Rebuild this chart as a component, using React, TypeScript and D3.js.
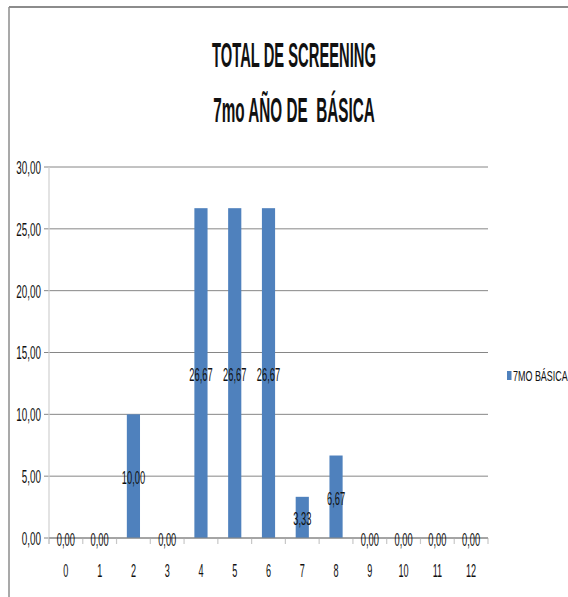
import { useMemo } from "react";
import * as d3 from "d3";

const W = 568;
const H = 597;

// data
const categories = ["0", "1", "2", "3", "4", "5", "6", "7", "8", "9", "10", "11", "12"];
const values = [0, 0, 10, 0, 26.67, 26.67, 26.67, 3.33, 6.67, 0, 0, 0, 0];
const yTicks = [0, 5, 10, 15, 20, 25, 30];
const titleLines = ["TOTAL DE SCREENING", "7mo AÑO DE  BÁSICA"];
const seriesName = "7MO BÁSICA";

const PLOT = { left: 49, right: 488, top: 167, bottom: 538 };
const BAR = "#4F81BD";
const GRID = "#868686";
const FONT = "'Liberation Sans', Arial, sans-serif";

const fmt = (v: number) => v.toFixed(2).replace(".", ",");

// texto estrecho (la imagen original viene comprimida a lo ancho)
const Squeezed = ({ x, y, sx, size, anchor, weight, baseline, children }: any) => (
  <text
    transform={`translate(${x},${y}) scale(${sx},1)`}
    textAnchor={anchor}
    dominantBaseline={baseline || "central"}
    fontSize={size}
    fontWeight={weight || "normal"}
    fontFamily={FONT}
    fill="#111"
    style={{ whiteSpace: "pre" }}
  >
    {children}
  </text>
);

export default function App() {
  const xScale = useMemo(
    () =>
      d3
        .scaleBand()
        .domain(categories)
        .range([PLOT.left, PLOT.right])
        .paddingInner(0.61)
        .paddingOuter(0.305),
    []
  );
  const yScale = useMemo(
    () => d3.scaleLinear().domain([0, 30]).range([PLOT.bottom, PLOT.top]),
    []
  );
  const step = xScale.step();
  const bw = xScale.bandwidth();
  const center = (c: string) => (xScale(c) as number) + bw / 2;

  return (
    <svg
      width={W}
      height={H}
      style={{ position: "absolute", left: 0, top: 0, display: "block", background: "white" }}
    >
      {/* marco */}
      <line x1={9} x2={W} y1={7} y2={7} stroke="#8c8c8c" strokeWidth={2} />
      <line x1={9} x2={9} y1={7} y2={H} stroke="#8c8c8c" strokeWidth={1.5} />

      {/* título */}
      {titleLines.map((t, i) => (
        <Squeezed
          key={i}
          x={294}
          y={i === 0 ? 67 : 122}
          sx={i === 0 ? 0.41 : 0.425}
          size={36}
          weight="bold"
          anchor="middle"
          baseline="alphabetic"
        >
          {t}
        </Squeezed>
      ))}

      {/* rejilla + etiquetas eje Y */}
      {yTicks.map((t) => (
        <g key={t}>
          <line
            x1={PLOT.left - 5}
            x2={PLOT.right}
            y1={yScale(t)}
            y2={yScale(t)}
            stroke={GRID}
            strokeWidth={1}
          />
          <Squeezed x={41} y={yScale(t)} sx={0.52} size={19} anchor="end">
            {fmt(t)}
          </Squeezed>
        </g>
      ))}

      {/* eje Y */}
      <line
        x1={PLOT.left}
        x2={PLOT.left}
        y1={PLOT.top}
        y2={PLOT.bottom + 6}
        stroke="#d0d0d0"
        strokeWidth={1.2}
      />

      {/* marcas eje X */}
      {d3.range(categories.length + 1).map((i) => (
        <line
          key={i}
          x1={PLOT.left + i * step}
          x2={PLOT.left + i * step}
          y1={PLOT.bottom}
          y2={PLOT.bottom + 6}
          stroke="#c8c8c8"
          strokeWidth={1.2}
        />
      ))}

      {/* barras */}
      {values.map((v, i) => (
        <rect
          key={i}
          x={xScale(categories[i])}
          y={yScale(v)}
          width={bw}
          height={yScale(0) - yScale(v)}
          fill={BAR}
        />
      ))}

      {/* eje X */}
      <line
        x1={PLOT.left}
        x2={PLOT.right}
        y1={PLOT.bottom}
        y2={PLOT.bottom}
        stroke={GRID}
        strokeWidth={1}
      />

      {/* etiquetas de datos */}
      {values.map((v, i) => (
        <Squeezed
          key={i}
          x={center(categories[i])}
          y={(yScale(0) + yScale(v)) / 2 + 1}
          sx={0.49}
          size={19}
          anchor="middle"
        >
          {fmt(v)}
        </Squeezed>
      ))}

      {/* categorías */}
      {categories.map((c) => (
        <Squeezed key={c} x={center(c)} y={571} sx={0.52} size={17.5} anchor="middle">
          {c}
        </Squeezed>
      ))}

      {/* leyenda */}
      <rect x={507} y={371} width={4.5} height={9} fill={BAR} />
      <Squeezed x={513} y={376} sx={0.64} size={14} anchor="start">
        {seriesName}
      </Squeezed>
    </svg>
  );
}
